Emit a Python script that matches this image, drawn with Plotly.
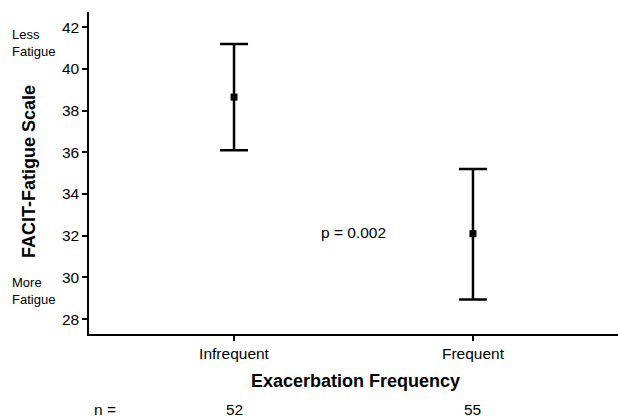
import plotly.graph_objects as go

categories = ["Infrequent", "Frequent"]
means = [38.65, 32.1]
upper = [41.2, 35.2]
lower = [36.1, 28.95]
n_values = [52, 55]
y_ticks = [28, 30, 32, 34, 36, 38, 40, 42]
p_text = "p = 0.002"

W, H = 618, 418
ML, MR, MT, MB = 89, 0, 12, 84
PW, PH = W - ML - MR, H - MT - MB

def px(x):
    return (x - ML) / PW

def py(y):
    return (H - MB - y) / PH

xpos = list(range(len(categories)))
err_plus = [u - m for u, m in zip(upper, means)]
err_minus = [m - l for m, l in zip(means, lower)]

FONT = "Liberation Sans, Arial, sans-serif"

fig = go.Figure()
fig.add_trace(go.Scatter(
    x=xpos, y=means, mode="markers",
    marker=dict(symbol="square", size=7, color="black"),
    error_y=dict(type="data", array=err_plus, arrayminus=err_minus,
                 symmetric=False, color="black", thickness=2.5, width=14),
    showlegend=False, hoverinfo="skip",
))

ann = []
ann.append(dict(text="Less<br>Fatigue", x=px(10), y=py(43), xref="paper", yref="paper",
                xanchor="left", yanchor="middle", align="left", showarrow=False,
                font=dict(size=13, color="black", family=FONT)))
ann.append(dict(text="More<br>Fatigue", x=px(10), y=py(291), xref="paper", yref="paper",
                xanchor="left", yanchor="middle", align="left", showarrow=False,
                font=dict(size=13, color="black", family=FONT)))
ann.append(dict(text="<b>FACIT-Fatigue Scale</b>", x=px(29), y=py(172), xref="paper", yref="paper",
                xanchor="center", yanchor="middle", textangle=-90, showarrow=False,
                font=dict(size=18, color="black", family=FONT)))
ann.append(dict(text=p_text, x=0.5, y=py(232), xref="x", yref="paper",
                xanchor="center", yanchor="middle", showarrow=False,
                font=dict(size=15.5, color="black", family=FONT)))
ann.append(dict(text="<b>Exacerbation Frequency</b>", x=px(355), y=py(381), xref="paper", yref="paper",
                xanchor="center", yanchor="middle", showarrow=False,
                font=dict(size=18, color="black", family=FONT)))
ann.append(dict(text="n =", x=px(92), y=py(409), xref="paper", yref="paper",
                xanchor="left", yanchor="middle", showarrow=False,
                font=dict(size=15.5, color="black", family=FONT)))
for i, n in enumerate(n_values):
    ann.append(dict(text=str(n), x=xpos[i], y=py(409), xref="x", yref="paper",
                    xanchor="center", yanchor="middle", showarrow=False,
                    font=dict(size=15.5, color="black", family=FONT)))

fig.update_layout(
    width=W, height=H,
    margin=dict(l=ML, r=MR, t=MT, b=MB, pad=0),
    paper_bgcolor="white", plot_bgcolor="white",
    font=dict(family=FONT, color="black", size=15.5),
    annotations=ann,
    xaxis=dict(range=[-0.607, 1.607], tickvals=xpos, ticktext=categories,
               showgrid=False, zeroline=False, showline=True, linecolor="black", linewidth=1.5,
               ticks="outside", ticklen=5, tickwidth=1.5, tickcolor="black",
               tickfont=dict(size=15.5, family=FONT, color="black")),
    yaxis=dict(range=[27.29, 42.73], tickvals=y_ticks,
               showgrid=False, zeroline=False, showline=True, linecolor="black", linewidth=1.5,
               ticks="outside", ticklen=5, tickwidth=1.5, tickcolor="black",
               tickfont=dict(size=15.5, family=FONT, color="black")),
)

fig.write_html("out.html")
